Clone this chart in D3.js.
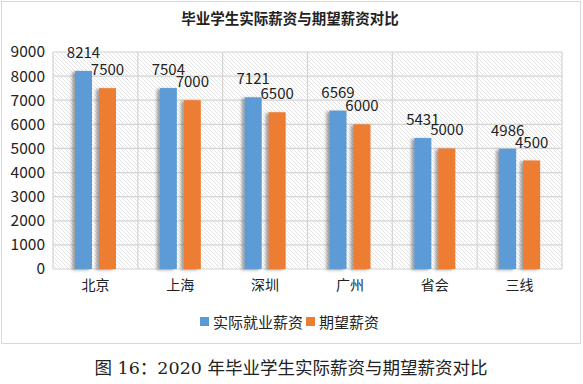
<!DOCTYPE html>
<html>
<head>
<meta charset="utf-8">
<script src="https://cdn.jsdelivr.net/npm/d3@7"></script>
<style>
  body { margin: 0; background: #fff; }
  text { font-family: "Noto Sans CJK SC", sans-serif; }
</style>
</head>
<body>
<div id="canvas"></div>
<script>
// data
const cities = ['北京', '上海', '深圳', '广州', '省会', '三线']
const actualPay = [8214, 7504, 7121, 6569, 5431, 4986]
const expectedPay = [7500, 7000, 6500, 6000, 5000, 4500]
const seriesNames = ['实际就业薪资', '期望薪资']
const seriesColors = ['#5b9bd5', '#ed7d31']
const yTicks = [0, 1000, 2000, 3000, 4000, 5000, 6000, 7000, 8000, 9000]

var width = 583, height = 384
var plot = {left: 53, right: 562, top: 52, bottom: 269}

var svg = d3.select('#canvas')
  .append('svg')
  .attr('width', width)
  .attr('height', height)

var defs = svg.append('defs')
var hatch = defs.append('pattern')
  .attr('id', 'hatch')
  .attr('patternUnits', 'userSpaceOnUse')
  .attr('width', 4)
  .attr('height', 4)
hatch.append('path')
  .attr('d', 'M-1,-1 L5,5 M-1,3 L1,5 M3,-1 L5,1')
  .attr('stroke', '#dcdcdc')
  .attr('stroke-width', 0.8)

var shadow = defs.append('filter')
  .attr('id', 'shadow')
  .attr('x', '-50%').attr('y', '-10%')
  .attr('width', '200%').attr('height', '120%')
shadow.append('feDropShadow')
  .attr('dx', -3).attr('dy', 1)
  .attr('stdDeviation', 1.5)
  .attr('flood-color', '#555')
  .attr('flood-opacity', 0.55)

// outer frame
svg.append('rect')
  .attr('x', 1.5).attr('y', 1.5)
  .attr('width', 579).attr('height', 342)
  .attr('fill', '#fff')
  .attr('stroke', '#d9d9d9')

svg.append('text')
  .text('毕业学生实际薪资与期望薪资对比')
  .attr('x', 290)
  .attr('y', 24)
  .attr('text-anchor', 'middle')
  .attr('font-size', '14.5px')
  .attr('font-weight', 'bold')
  .attr('fill', '#222')

const x = d3.scaleBand()
  .domain(cities)
  .range([plot.left, plot.right])

const xSub = d3.scaleBand()
  .domain(seriesNames)
  .range([22, 63])
  .paddingInner(0.29)

const y = d3.scaleLinear()
  .domain([0, 9000])
  .range([plot.bottom, plot.top])

svg.append('rect')
  .attr('x', plot.left).attr('y', plot.top)
  .attr('width', plot.right - plot.left)
  .attr('height', plot.bottom - plot.top)
  .attr('fill', 'url(#hatch)')

// grid
svg.append('g')
  .selectAll('line')
  .data(yTicks)
  .enter()
  .append('line')
  .attr('x1', plot.left).attr('x2', plot.right)
  .attr('y1', d => y(d)).attr('y2', d => y(d))
  .attr('stroke', '#d4d4d4')
  .attr('stroke-width', 1.2)

var edges = cities.map(c => x(c)).concat([plot.right])
svg.append('g')
  .selectAll('line')
  .data(edges)
  .enter()
  .append('line')
  .attr('x1', d => d).attr('x2', d => d)
  .attr('y1', plot.top).attr('y2', plot.bottom)
  .attr('stroke', '#d4d4d4')
  .attr('stroke-width', 1.2)

const yAxis = svg.append('g')
  .attr('transform', 'translate(' + (plot.left - 8) + ',0)')
  .call(d3.axisLeft(y).tickValues(yTicks).tickSize(0).tickPadding(0).tickFormat(d3.format('d')))
yAxis.select('.domain').remove()
yAxis.selectAll('text')
  .attr('font-size', '15.5px')
  .attr('fill', '#222')

const xAxis = svg.append('g')
  .attr('transform', 'translate(0,' + plot.bottom + ')')
  .call(d3.axisBottom(x).tickSize(0).tickPadding(11))
xAxis.select('.domain').remove()
xAxis.selectAll('text')
  .attr('font-size', '14px')
  .attr('fill', '#222')

const rows = cities.map((c, i) => ({city: c, values: [actualPay[i], expectedPay[i]]}))

const groups = svg.append('g')
  .selectAll('g')
  .data(rows)
  .enter()
  .append('g')
  .attr('transform', d => 'translate(' + x(d.city) + ',0)')

groups.selectAll('rect')
  .data(d => d.values.map((v, i) => ({name: seriesNames[i], value: v, color: seriesColors[i]})))
  .enter()
  .append('rect')
  .attr('x', d => xSub(d.name))
  .attr('y', d => y(d.value))
  .attr('width', xSub.bandwidth())
  .attr('height', d => y(0) - y(d.value))
  .attr('fill', d => d.color)
  .attr('filter', 'url(#shadow)')

groups.selectAll('text.val')
  .data(d => d.values.map((v, i) => ({name: seriesNames[i], value: v})))
  .enter()
  .append('text')
  .attr('class', 'val')
  .text(d => d.value)
  .attr('x', d => xSub(d.name) + xSub.bandwidth() / 2)
  .attr('y', d => y(d.value) - 13)
  .attr('text-anchor', 'middle')
  .attr('font-size', '15px')
  .attr('fill', '#222')

// legend
const legend = svg.append('g')
  .attr('transform', 'translate(200,322)')
const legendX = [0, 106]
seriesNames.forEach((name, i) => {
  legend.append('rect')
    .attr('x', legendX[i]).attr('y', -5)
    .attr('width', 9).attr('height', 9)
    .attr('fill', seriesColors[i])
  legend.append('text')
    .text(name)
    .attr('x', legendX[i] + 13)
    .attr('y', 5.5)
    .attr('font-size', '15px')
    .attr('fill', '#222')
})

svg.append('text')
  .text('图 16：2020 年毕业学生实际薪资与期望薪资对比')
  .attr('x', 291)
  .attr('y', 374)
  .attr('text-anchor', 'middle')
  .style('font-family', '"DejaVu Serif", "Noto Sans CJK SC", serif')
  .attr('font-size', '17.5px')
  .attr('fill', '#222')
</script>
</body>
</html>
